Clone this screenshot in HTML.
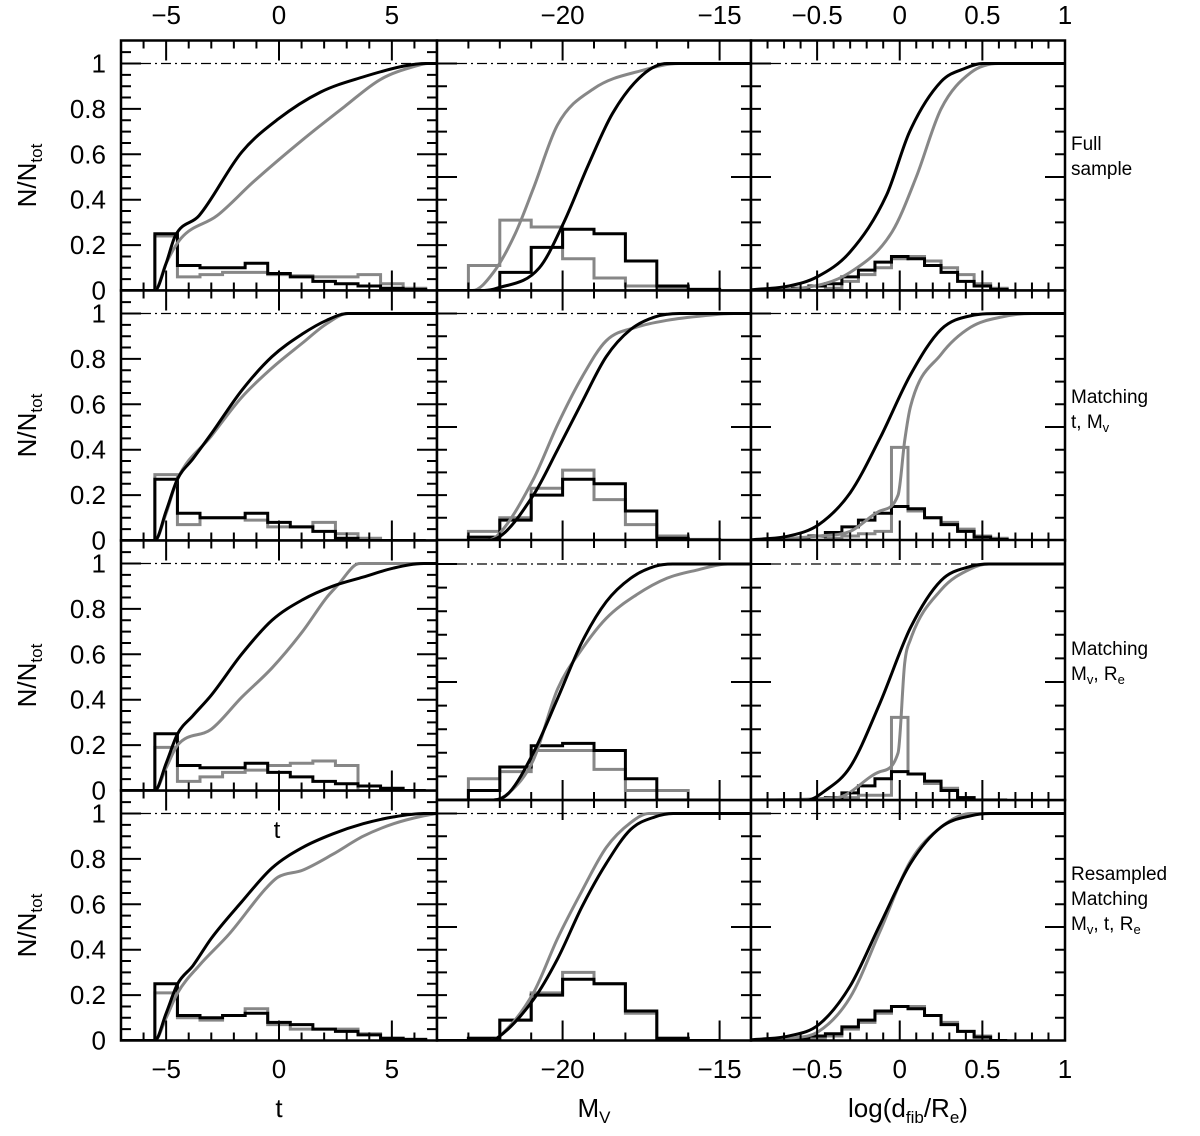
<!DOCTYPE html>
<html><head><meta charset="utf-8"><style>
html,body{margin:0;padding:0;background:#fff;}
svg{display:block;font-family:"Liberation Sans",sans-serif;}
</style></head><body>
<svg id="plot" width="1200" height="1136" viewBox="0 0 1200 1136" xmlns="http://www.w3.org/2000/svg"></svg>
<script>
// ---------- data: left column (morphological type t) ----------
const leftBinStart = -5.5, leftBinWidth = 1;
const cdf_r1c1_black_x = [-7,-5.5,-5.0,-4.6,-3.54,-1.65,-0.04,1.84,3.7,5.6,6.5,7];
const cdf_r1c1_black_y = [0,0,0.12,0.24,0.33,0.61,0.755,0.874,0.94,0.99,1,1];
const cdf_r1c1_gray_x = [-7,-5.5,-5.0,-4.34,-2.74,-1.12,1.0,2.9,4.5,6.1,6.6,7];
const cdf_r1c1_gray_y = [0,0,0.12,0.23,0.33,0.48,0.66,0.81,0.93,0.99,1,1];
const hist_r1c1_black = [0.25,0.11,0.10,0.10,0.12,0.075,0.06,0.04,0.03,0.02,0.01,0.005];
const hist_r1c1_gray = [0.24,0.06,0.07,0.08,0.08,0.07,0.065,0.06,0.06,0.07,0.03,0.01];

const cdf_r2c1_black_x = [-7,-5.5,-5.0,-4.5,-3.81,-3.0,-1.66,-0.31,1.04,2.11,3.06,7];
const cdf_r2c1_black_y = [0,0,0.13,0.27,0.36,0.47,0.66,0.81,0.91,0.97,1,1];
const cdf_r2c1_gray_x = [-7,-5.5,-5.0,-4.5,-3.0,-1.66,-0.31,1.04,2.11,3.06,7];
const cdf_r2c1_gray_y = [0,0,0.12,0.27,0.46,0.63,0.76,0.87,0.955,1,1];
const hist_r2c1_black = [0.27,0.12,0.10,0.10,0.12,0.08,0.06,0.04,0.01,0,0,0];
const hist_r2c1_gray = [0.29,0.07,0.10,0.10,0.09,0.06,0.06,0.08,0.03,0.01,0,0];

const cdf_r3c1_black_x = [-7,-5.5,-5.0,-4.49,-3.81,-3.0,-1.66,-0.31,1.04,2.38,3.73,5.08,6.42,7];
const cdf_r3c1_black_y = [0,0,0.12,0.25,0.33,0.42,0.6,0.75,0.84,0.9,0.94,0.98,1,1];
const cdf_r3c1_gray_x = [-7,-5.5,-5.0,-4.49,-3.0,-1.66,-0.31,1.04,2.11,2.65,3.33,3.6,7];
const cdf_r3c1_gray_y = [0,0,0.1,0.2,0.27,0.41,0.54,0.70,0.85,0.91,0.99,1,1];
const hist_r3c1_black = [0.25,0.11,0.10,0.10,0.12,0.08,0.06,0.04,0.03,0.02,0.01,0];
const hist_r3c1_gray = [0.19,0.04,0.06,0.08,0.09,0.11,0.12,0.13,0.11,0,0,0];

const cdf_r4c1_black_x = [-7,-5.5,-5.0,-4.49,-3.81,-3.0,-1.66,-0.31,1.04,2.38,3.73,5.08,6.42,7];
const cdf_r4c1_black_y = [0,0,0.12,0.25,0.33,0.45,0.61,0.76,0.85,0.91,0.955,0.985,1,1];
const cdf_r4c1_gray_x = [-7,-5.5,-5.0,-4.49,-3.54,-2.2,-0.58,-0.04,1.04,2.38,3.73,5.08,6.42,7];
const cdf_r4c1_gray_y = [0,0,0.1,0.21,0.33,0.47,0.67,0.72,0.75,0.82,0.9,0.955,0.99,1];
const hist_r4c1_black = [0.25,0.11,0.10,0.11,0.12,0.08,0.07,0.05,0.04,0.025,0.01,0.005];
const hist_r4c1_gray = [0.21,0.10,0.09,0.11,0.14,0.07,0.05,0.05,0.05,0.03,0.01,0.005];

// ---------- data: middle column (M_V) ----------
const midBinStart = -23, midBinWidth = 1;
const cdf_r1c2_black_x = [-24,-22.5,-22.09,-20.74,-19.96,-19.19,-18.41,-17.45,-16.67,-14];
const cdf_r1c2_black_y = [0,0,0.01,0.1,0.3,0.55,0.78,0.95,1,1];
const cdf_r1c2_gray_x = [-24,-22.87,-22.2,-21.51,-20.93,-20.16,-19.0,-17.45,-16.28,-14];
const cdf_r1c2_gray_y = [0,0,0.08,0.25,0.45,0.73,0.89,0.97,1,1];
const hist_r1c2_black = [0,0.08,0.19,0.27,0.25,0.13,0.02,0.005];
const hist_r1c2_gray = [0.11,0.31,0.28,0.14,0.055,0.02,0.01,0.005];

const cdf_r2c2_black_x = [-24,-22.5,-22.09,-20.93,-20.16,-19.38,-18.61,-17.83,-17.06,-16.28,-14];
const cdf_r2c2_black_y = [0,0,0.01,0.2,0.4,0.61,0.81,0.93,0.985,1,1];
const cdf_r2c2_gray_x = [-24,-22.5,-22.09,-20.93,-20.16,-19.38,-18.61,-17.64,-16.67,-15.51,-14.54,-14];
const cdf_r2c2_gray_y = [0,0,0.02,0.27,0.51,0.72,0.88,0.94,0.97,0.99,1,1];
const hist_r2c2_black = [0.015,0.09,0.2,0.27,0.25,0.13,0.01,0.003];
const hist_r2c2_gray = [0.04,0.1,0.23,0.31,0.18,0.07,0.02,0.005];

const cdf_r3c2_black_x = [-24,-22.2,-21.71,-20.93,-20.16,-19.38,-18.61,-17.83,-17.06,-16.5,-14];
const cdf_r3c2_black_y = [0,0,0.03,0.2,0.43,0.67,0.84,0.94,0.99,1,1];
const cdf_r3c2_gray_x = [-24,-22.2,-21.71,-20.93,-20.16,-19.38,-18.61,-17.64,-16.67,-15.7,-14.74,-14];
const cdf_r3c2_gray_y = [0,0,0.03,0.17,0.47,0.64,0.77,0.87,0.94,0.975,1,1];
const hist_r3c2_black = [0.04,0.14,0.23,0.24,0.21,0.09,0,0];
const hist_r3c2_gray = [0.09,0.12,0.21,0.21,0.13,0.04,0.04,0];

const cdf_r4c2_black_x = [-24,-22.3,-22.09,-20.93,-20.16,-19.38,-18.61,-17.83,-17.06,-16.48,-14];
const cdf_r4c2_black_y = [0,0,0.01,0.18,0.36,0.59,0.78,0.93,0.985,1,1];
const cdf_r4c2_gray_x = [-24,-22.3,-22.09,-20.93,-20.16,-19.38,-18.61,-17.83,-17.25,-14];
const cdf_r4c2_gray_y = [0,0,0.01,0.21,0.45,0.66,0.85,0.96,1,1];
const hist_r4c2_black = [0.01,0.09,0.2,0.27,0.25,0.13,0.01,0];
const hist_r4c2_gray = [0.01,0.09,0.21,0.30,0.25,0.12,0.01,0];

// ---------- data: right column log(d_fib/R_e) ----------
const rightBinStart = -0.75, rightBinWidth = 0.1;
const cdf_r1c3_black_x = [-0.9,-0.67,-0.5,-0.30,-0.08,0.06,0.25,0.4,0.5,1];
const cdf_r1c3_black_y = [0.003,0.02,0.06,0.17,0.42,0.7,0.92,0.98,1,1];
const cdf_r1c3_gray_x = [-0.9,-0.6,-0.30,-0.045,0.1,0.25,0.43,0.6,1];
const cdf_r1c3_gray_y = [0,0.01,0.08,0.26,0.5,0.8,0.96,1,1];
const hist_r1c3_black = [0.005,0.01,0.02,0.03,0.06,0.09,0.125,0.15,0.14,0.11,0.08,0.04,0.02,0.005];
const hist_r1c3_gray = [0,0,0,0.01,0.04,0.07,0.1,0.14,0.15,0.13,0.1,0.07,0.03,0.01];

const cdf_r2c3_black_x = [-0.9,-0.67,-0.49,-0.30,-0.12,0.065,0.25,0.43,0.62,1];
const cdf_r2c3_black_y = [0.003,0.02,0.07,0.21,0.45,0.73,0.93,0.99,1,1];
const cdf_r2c3_gray_x = [-0.9,-0.49,-0.30,-0.12,-0.01,0.03,0.065,0.25,0.43,0.62,0.8,1];
const cdf_r2c3_gray_y = [0,0.02,0.04,0.13,0.2,0.44,0.59,0.82,0.94,0.985,1,1];
const hist_r2c3_black = [0.005,0.01,0.02,0.035,0.06,0.09,0.12,0.15,0.14,0.1,0.07,0.04,0.015,0.005];
const hist_r2c3_gray = [0,0,0,0.01,0.02,0.03,0.04,0.41,0.13,0.1,0.08,0.05,0.02,0.01];

const cdf_r3c3_black_x = [-0.9,-0.56,-0.45,-0.30,-0.12,0.065,0.25,0.43,0.54,1];
const cdf_r3c3_black_y = [0,0,0.04,0.14,0.41,0.73,0.93,0.99,1,1];
const cdf_r3c3_gray_x = [-0.9,-0.38,-0.12,-0.01,0.03,0.065,0.25,0.43,0.54,1];
const cdf_r3c3_gray_y = [0,0.01,0.12,0.2,0.58,0.68,0.89,0.98,1,1];
const hist_r3c3_black = [0,0,0,0.01,0.03,0.06,0.09,0.12,0.11,0.08,0.04,0.01,0,0];
const hist_r3c3_gray = [0,0,0,0,0.01,0.02,0.02,0.35,0.11,0.07,0.05,0.01,0,0];

const cdf_r4c3_black_x = [-0.9,-0.67,-0.49,-0.30,-0.12,0.065,0.25,0.43,0.55,1];
const cdf_r4c3_black_y = [0.003,0.02,0.07,0.24,0.51,0.78,0.94,0.99,1,1];
const cdf_r4c3_gray_x = [-0.9,-0.67,-0.49,-0.30,-0.12,0.065,0.25,0.43,1];
const cdf_r4c3_gray_y = [0,0.01,0.04,0.19,0.48,0.79,0.94,1,1];
const hist_r4c3_black = [0.005,0.01,0.02,0.03,0.06,0.09,0.13,0.15,0.14,0.11,0.07,0.04,0.015,0];
const hist_r4c3_gray = [0,0.005,0.01,0.02,0.05,0.08,0.12,0.15,0.15,0.11,0.08,0.04,0.02,0];

// tick labels
const leftTickLabels = [-5,0,5];
const midTickLabels = [-20,-15];
const rightTickLabels = [-0.5,0,0.5,1];
const yTickLabels = [0,0.2,0.4,0.6,0.8,1];

// ---------- layout ----------
const NS = "http://www.w3.org/2000/svg";
const svg = document.getElementById('plot');
const cols = [
  {x0:121,x1:437,d0:-7,d1:7,minor:1,major:5,ymin:0.05,ymaj:0.2,bs:leftBinStart,bw:leftBinWidth,labels:leftTickLabels},
  {x0:437,x1:751,d0:-24,d1:-14,minor:1,major:5,ymin:0.1,ymaj:0.5,bs:midBinStart,bw:midBinWidth,labels:midTickLabels},
  {x0:751,x1:1065,d0:-0.9,d1:1,minor:0.1,major:0.5,ymin:0.1,ymaj:0.5,bs:rightBinStart,bw:rightBinWidth,labels:rightTickLabels}
];
const rowY0 = [290.5,540.5,790.5,1040.5];
function mk(tag, parent){ const e=document.createElementNS(NS,tag); (parent||svg).appendChild(e); return e; }
function fmt(v){ return (v<0?'\u2212':'')+String(Math.abs(v)); }

const panels = [];
for(let r=0;r<4;r++){ for(let c=0;c<3;c++){
  const id='r'+(r+1)+'c'+(c+1);
  let y0=rowY0[r], k=227, top=rowY0[r]-250;
  if(r===2 && c>0){ y0=800; k=236; top=540; }
  if(r===3 && c>0){ top=800; }
  panels.push({r,c,id,y0,k,top,
    bx:eval('cdf_'+id+'_black_x'), by:eval('cdf_'+id+'_black_y'),
    gx:eval('cdf_'+id+'_gray_x'), gy:eval('cdf_'+id+'_gray_y'),
    hb:eval('hist_'+id+'_black'), hg:eval('hist_'+id+'_gray')});
}}
const order=[9,10,11,0,1,2,3,4,5,6,7,8];

// monotone cubic (Fritsch-Carlson) path through points
function monoPath(px,py){
  const n=px.length; const d=[],m=new Array(n);
  for(let i=0;i<n-1;i++) d.push((py[i+1]-py[i])/(px[i+1]-px[i]));
  m[0]=d[0]; m[n-1]=d[n-2];
  for(let i=1;i<n-1;i++){ m[i]=(d[i-1]*d[i]<=0)?0:(d[i-1]+d[i])/2; }
  for(let i=0;i<n-1;i++){
    if(d[i]===0){m[i]=0;m[i+1]=0;continue;}
    const a=m[i]/d[i], b=m[i+1]/d[i], s=a*a+b*b;
    if(s>9){const t=3/Math.sqrt(s); m[i]=t*a*d[i]; m[i+1]=t*b*d[i];}
  }
  let p='M'+px[0].toFixed(2)+','+py[0].toFixed(2);
  for(let i=0;i<n-1;i++){
    const h=(px[i+1]-px[i])/3;
    p+=' C'+(px[i]+h).toFixed(2)+','+(py[i]+m[i]*h).toFixed(2)+' '+(px[i+1]-h).toFixed(2)+','+(py[i+1]-m[i+1]*h).toFixed(2)+' '+px[i+1].toFixed(2)+','+py[i+1].toFixed(2);
  }
  return p;
}

function drawPanel(P){
  const col=cols[P.c];
  const X=v=>col.x0+(v-col.d0)/(col.d1-col.d0)*(col.x1-col.x0);
  const Y=v=>P.y0-v*P.k;
  const g=mk('g');
  
  
  const bg=mk('rect',g);
  bg.setAttribute('x',col.x0); bg.setAttribute('y',P.top); bg.setAttribute('width',col.x1-col.x0); bg.setAttribute('height',P.y0-P.top); bg.setAttribute('fill','#fff');
  
  
  const cp=mk('clipPath',g); cp.setAttribute('id','clip-'+P.id);
  const cr=mk('rect',cp); cr.setAttribute('x',col.x0); cr.setAttribute('y',P.top); cr.setAttribute('width',col.x1-col.x0); cr.setAttribute('height',P.y0-P.top);
  const inner=mk('g',g); inner.setAttribute('clip-path','url(#clip-'+P.id+')');
  
  
  const ref=mk('line',inner);
  ref.setAttribute('x1',col.x0); ref.setAttribute('x2',col.x1); ref.setAttribute('y1',Y(1)); ref.setAttribute('y2',Y(1));
  ref.setAttribute('stroke','#000'); ref.setAttribute('stroke-width','1.2'); ref.setAttribute('stroke-dasharray','10 4 2 4');
  
  
  function hist(vals,color,name){
    let d='M'+X(col.bs)+','+Y(0);
    vals.forEach((v,i)=>{ const a=col.bs+i*col.bw, b=a+col.bw; d+=' L'+X(a)+','+Y(v)+' L'+X(b)+','+Y(v); });
    d+=' L'+X(col.bs+vals.length*col.bw)+','+Y(0);
    const p=mk('path',inner); p.setAttribute('d',d); p.setAttribute('fill','none'); p.setAttribute('stroke',color); p.setAttribute('stroke-width','3');
    
    
  }
  function cdf(xs,ys,color,name){
    const d=monoPath(xs.map(X),ys.map(Y));
    const p=mk('path',inner); p.setAttribute('d',d); p.setAttribute('fill','none'); p.setAttribute('stroke',color); p.setAttribute('stroke-width','3'); p.setAttribute('stroke-linejoin','round');
    
    
  }
  hist(P.hg,'#878787','histogram-gray');
  hist(P.hb,'#000','histogram-black');
  cdf(P.gx,P.gy,'#878787','cdf-gray');
  cdf(P.bx,P.by,'#000','cdf-black');
  const fr=mk('rect',g);
  fr.setAttribute('x',col.x0); fr.setAttribute('y',P.top); fr.setAttribute('width',col.x1-col.x0); fr.setAttribute('height',P.y0-P.top);
  fr.setAttribute('fill','none'); fr.setAttribute('stroke','#000'); fr.setAttribute('stroke-width','2.5');
  
  
  let td='';
  const nx=Math.round((col.d1-col.d0)/col.minor);
  for(let i=1;i<nx;i++){
    const v=col.d0+i*col.minor; const isMaj=Math.abs(v/col.major-Math.round(v/col.major))<1e-6;
    const L=isMaj?20:8; const x=X(v).toFixed(2);
    td+='M'+x+','+P.top+' v'+L+' M'+x+','+P.y0+' v'+(-L)+' ';
  }
  const ny=Math.round(1.1/col.ymin);
  for(let i=1;i<=ny;i++){
    const v=i*col.ymin; const y=Y(v); if(y<=P.top+1) continue;
    const isMaj=Math.abs(v/col.ymaj-Math.round(v/col.ymaj))<1e-6;
    const L=isMaj?20:10;
    td+='M'+col.x0+','+y.toFixed(2)+' h'+L+' M'+col.x1+','+y.toFixed(2)+' h'+(-L)+' ';
  }
  const tk=mk('path',g); tk.setAttribute('d',td); tk.setAttribute('stroke','#000'); tk.setAttribute('stroke-width','2'); tk.setAttribute('fill','none');
  
  
}
order.forEach(i=>drawPanel(panels[i]));

function txt(x,y,s,size,anchor,name){
  const t=mk('text'); t.setAttribute('x',x); t.setAttribute('y',y); t.setAttribute('font-size',size); t.setAttribute('text-anchor',anchor||'middle'); t.textContent=s;
  
  
  return t;
}
cols.forEach((col,ci)=>{
  col.labels.forEach(v=>{
    const x=col.x0+(v-col.d0)/(col.d1-col.d0)*(col.x1-col.x0);
    txt(x,24,fmt(v),26,'middle','top-x-tick-label');
    txt(x,1078,fmt(v),26,'middle','bottom-x-tick-label');
  });
});
for(let r=0;r<4;r++){
  yTickLabels.forEach(v=>{ txt(106,rowY0[r]-v*227+9,String(v),26,'end','y-tick-label'); });
  const yc=rowY0[r]-125;
  const t=mk('text'); t.setAttribute('transform','translate(36,'+(yc+10)+') rotate(-90)'); t.setAttribute('font-size','26'); t.setAttribute('text-anchor','middle');
  
  
  t.innerHTML='N/N<tspan font-size="17" dy="6">tot</tspan>';
}
txt(279,1117,'t',26,'middle','x-axis-title-t');
const mv=txt(594,1117,'',26,'middle','x-axis-title-mv'); mv.innerHTML='M<tspan font-size="17" dy="6">V</tspan>';
const ld=txt(908,1117,'',26,'middle','x-axis-title-log-dfib'); ld.innerHTML='log(d<tspan font-size="17" dy="6">fib</tspan><tspan dy="-6">/R</tspan><tspan font-size="17" dy="6">e</tspan><tspan dy="-6">)</tspan>';
txt(277,838,'t',24,'middle','stray-t-label');
const rl=[
  [[150,'Full'],[175,'sample']],
  [[403,'Matching'],[428,'t,  M<tspan font-size="13" dy="4">v</tspan>']],
  [[655,'Matching'],[680,'M<tspan font-size="13" dy="4">v</tspan><tspan dy="-4">,    R</tspan><tspan font-size="13" dy="4">e</tspan>']],
  [[880,'Resampled'],[905,'Matching'],[930,'M<tspan font-size="13" dy="4">v</tspan><tspan dy="-4">,  t,  R</tspan><tspan font-size="13" dy="4">e</tspan>']]
];
rl.forEach((lines,ri)=>{ lines.forEach(([y,h])=>{ const t=txt(1071,y,'',19,'start','row-label-'+(ri+1)); t.innerHTML=h; }); });
</script>
</body></html>
